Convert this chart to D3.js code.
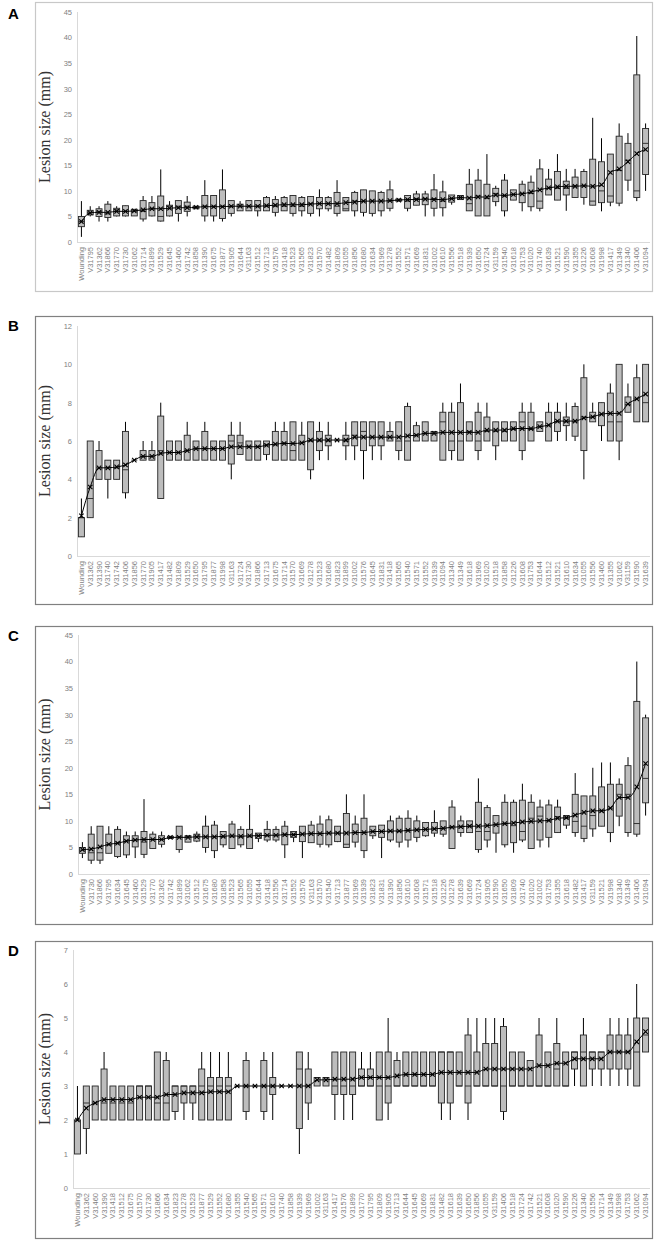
<!DOCTYPE html>
<html>
<head>
<meta charset="utf-8">
<script src="https://cdn.jsdelivr.net/npm/d3@7"></script>
<style>
  body { margin: 0; background: #fff; }
</style>
</head>
<body>
<div id="vis"></div>
<script>
// each stat row: [min, q1, median, q3, max, mean]

var namesA = ["Wounding","V31795","V31362","V31866","V31770","V31730","V31062","V31714","V31899","V31529","V31645","V31460","V31742","V31858","V31390","V31675","V31877","V31905","V31644","V31163","V31512","V31713","V31576","V31418","V31523","V31565","V31823","V31570","V31482","V31809","V31055","V31856","V31680","V31634","V31969","V31278","V31552","V31571","V31669","V31831","V31002","V31610","V31556","V31518","V31939","V31650","V31724","V31159","V31540","V31618","V31753","V31020","V31740","V31639","V31521","V31590","V31355","V31226","V31608","V31998","V31417","V31349","V31340","V31406","V31094"];
var statsA = [
  [1,3,4,5,8,4.0],[5,5.3,5.8,6.2,7,5.7],[4,5,6,6.5,7,5.8],[4,4.8,5.5,7.4,8,5.8],[5,5.1,6.3,6.6,7,6.0],
  [5,5.1,6,7.1,7.1,6.0],[5.1,5.1,6,6.4,6.4,6.1],[4,4.5,6,8.1,9,6.3],[5,5.1,6.5,7.7,9,6.5],[4,4.1,5,9,14.2,6.5],
  [5,5.1,7,7.2,8,6.6],[4,5.6,7,8.1,8.1,6.7],[5,6,7,7.8,9,6.7],[6.5,6.5,6.8,7,7,6.8],[4,5.1,7,9.1,12.1,6.9],
  [4,5.1,7,9.1,9.1,6.9],[4,4.6,7,10.2,14.2,6.9],[5,5.6,7,8.1,8.1,7.0],[6.1,6.1,7,7.4,8,7.0],[6.1,6.1,7,8.1,8.1,7.0],
  [5,6.1,7,8.1,8.1,7.0],[6.1,6.1,7,8.7,9,7.1],[5,5.8,7,8.3,9,7.2],[6.1,6.1,7,8.7,9,7.3],[5,5.6,7,9.1,9.1,7.3],
  [5,6.1,7,8.7,9,7.3],[5,5.6,7.5,8.9,9,7.4],[5,6.5,7.5,8.7,10.3,7.5],[6,6.5,7.5,8.7,9,7.5],[5,5.6,7,9.7,12.1,7.5],
  [6.1,6.1,6.5,8.7,8.7,7.7],[5,6.1,8,9.7,10,7.8],[5,5.8,8,10.2,10.2,8.0],[5,5.6,8,10,10,8.0],[5,6.1,8,9.7,10,8.0],
  [6,6.6,8,10.2,12,8.1],[8,8,8.2,8.4,8.4,8.2],[6,6.6,8,9.1,9.1,8.3],[7.2,7.2,8.5,9.4,10,8.3],[5,7.3,8.5,9.4,10,8.4],
  [5,6.6,8.5,10.2,13.3,8.3],[5,6.7,8,9.8,12,8.3],[7.3,7.8,8.5,9.2,9.2,8.5],[8.3,8.3,8.7,9.1,9.1,8.7],[6.1,6.1,7.5,11.3,14.3,8.6],
  [5.1,5.1,9,12.1,14.3,8.8],[5.1,5.1,8.5,11.3,17.2,8.8],[7,7.9,9.5,10.5,11,9.2],[5,6.1,9,12.1,13.3,9.1],[8.2,8.2,9.3,10.2,10.2,9.3],
  [6,7.7,9.5,11.3,12,9.4],[6,6.9,9.5,11.7,13,9.8],[6,6.6,8,14.3,16.2,10.2],[9.2,9.2,10.5,12.3,14.3,10.6],[8.2,8.2,10.5,13.8,17.2,10.8],
  [6.1,9.2,10.5,11.9,14.3,10.9],[8.7,8.7,11,12.7,14.3,10.9],[7.3,8.7,11,13.8,14.3,11.0],[7.2,7.2,8,16.2,24.3,10.9],[6,7.7,10,15.7,20.3,11.2],
  [7,7.8,9,17.2,17.2,13.6],[7,7.6,14,20.7,23.2,14.3],[10,12.1,16,19.3,21.3,15.7],[8,8.7,10,32.7,40.3,17.3],[10,13.2,19.3,22.2,23.2,18.1]
];

var namesB = ["Wounding","V31362","V31390","V31740","V31742","V31406","V31856","V31770","V31905","V31417","V31482","V31809","V31529","V31650","V31795","V31877","V31998","V31163","V31724","V31730","V31866","V31713","V31675","V31714","V31570","V31669","V31278","V31523","V31680","V31823","V31899","V31002","V31576","V31645","V31831","V31418","V31565","V31540","V31571","V31552","V31939","V31094","V31340","V31349","V31618","V31969","V31020","V31518","V31858","V31226","V31608","V31753","V31644","V31512","V31521","V31610","V31634","V31055","V31556","V31460","V31355","V31062","V31159","V31590","V31639"];
var statsB = [
  [1,1,2,2,3,2.1],[2,2,3,6,6,3.6],[4,4,4.6,5.5,6,4.6],[3,4,4.6,5,5,4.6],[4,4,4.6,5,5,4.65],
  [3,3.3,4.5,6.5,7,4.75],[5,5,5,5,5,5.0],[5,5,5.2,5.5,6,5.2],[5,5,5.2,5.5,6,5.2],[3,3,5.5,7.3,8,5.35],
  [5,5,5.4,6,6,5.4],[5,5,5.4,6,6,5.4],[5,5,5.5,6.3,7,5.5],[5,5,5.6,6,6,5.6],[5,5,5.6,6.5,7,5.6],
  [5,5,5.6,6,6,5.6],[5,5,5.6,6,6,5.6],[4,4.8,6,6.3,7,5.7],[5.3,5.3,5.9,6.3,7,5.7],[5,5,5.7,6,6,5.7],
  [5,5,5.7,6,6,5.7],[5,5.3,5.8,6,6,5.78],[5,5,5.8,6.5,7,5.84],[5,5,5.9,6.5,7,5.87],[5,5,5.5,7,7,5.87],
  [5,5,5.9,6.3,7,5.9],[4,4.5,6,7,7,6.05],[5,5.5,6,6.5,7,6.05],[5,5.75,6,6.3,7,6.05],[6.05,6.05,6.05,6.05,6.05,6.05],
  [5,5.75,6,6.3,7,6.05],[5,5.75,6.3,7,7,6.2],[4,5.5,6.5,7,7,6.2],[5,5.75,6.2,7,7,6.2],[5,5.75,6.2,7,7,6.2],
  [6,6,6.2,6.5,7,6.2],[5,5.5,6,7,7,6.2],[5,5,6,7.8,8,6.27],[6,6,6.3,6.8,7,6.3],[6,6,6.4,7,7,6.4],
  [6,6,6.4,6.5,6.5,6.4],[5,5,7,7.5,8,6.45],[5,5.5,6,7.5,8,6.45],[5,5,6,8,9,6.45],[6,6,6.5,7,7,6.45],
  [5,5.5,6,7.5,8,6.45],[6,6,6.5,7.25,8,6.57],[5,5.75,6.5,7,7,6.57],[6,6,6.5,7,7,6.57],[6,6,6.6,7,7,6.65],
  [5,5.5,7,7.5,8,6.65],[6,6,6.6,7.5,8,6.65],[6.5,6.5,6.75,7,7,6.75],[6,6,6.8,7.5,8,6.83],[6,6.5,7,7.5,8,7.04],
  [6,6.8,7,7.25,8,7.04],[6,6.25,7,7.8,8,7.04],[4,5.5,7.25,9.3,10,7.2],[7,7,7.25,7.5,8,7.26],[6,6.8,7.4,8,8,7.4],
  [6,6,7,8.5,9,7.44],[5,6,7,10,10,7.44],[7.5,7.5,7.9,8.3,9,7.93],[7,7,8.2,9.3,10,8.2],[7,7,8,10,10,8.45]
];

var namesC = ["Wounding","V31730","V31866","V31795","V31634","V31645","V31460","V31529","V31770","V31362","V31742","V31899","V31062","V31512","V31675","V31680","V31858","V31523","V31565","V31055","V31644","V31418","V31556","V31714","V31552","V31576","V31163","V31570","V31540","V31713","V31877","V31969","V31939","V31823","V31831","V31390","V31856","V31610","V31608","V31571","V31518","V31226","V31278","V31639","V31669","V31724","V31905","V31590","V31650","V31809","V31740","V31020","V31002","V31753","V31355","V31618","V31482","V31417","V31159","V31521","V31998","V31340","V31349","V31406","V31094"];
var statsC = [
  [3,3.9,4.5,5,6,4.6],[1.9,2.6,4,7.5,9,4.7],[1.9,2.6,4,9,9,5.1],[3.9,3.9,5.5,7.5,9,5.6],[3,3.3,5.8,8.4,9,5.8],
  [3,3.6,6.2,7.2,8,6.2],[3,5.1,6.4,7.2,8,6.4],[3,3.7,6,8,14.1,6.5],[4.8,4.8,6.5,7.5,8,6.5],[5,5.6,6.5,7.2,8,6.5],
  [6.7,6.7,6.9,7.1,7.1,6.9],[4,4.6,7,9,9,6.9],[6,6,7,7.2,7.2,6.9],[6,6.2,7,7.5,8,7.0],[4,5,7,9,11,7.0],
  [3,4.4,7,9.2,10,7.0],[5,5.5,7,8,8,7.1],[4.8,4.8,7,9.4,10,7.2],[5,5.5,7,8.4,9,7.1],[4.8,4.8,7,8.4,13,7.2],
  [6,6.7,7.2,7.7,7.7,7.2],[6,6.4,7.2,8.4,10,7.3],[6,6.4,7.3,8.4,9,7.3],[3,5.5,7.4,9,10,7.4],[6,6.9,7.4,8,8,7.4],
  [3,6.1,7.5,9,9,7.5],[5.9,5.9,7.6,9.2,10,7.6],[5,5.6,7.6,9.4,11,7.6],[5,5.5,7.7,10.2,11,7.7],[6,6.1,7.7,9,9,7.7],
  [5,5,5.6,11.4,15,7.7],[5,6,7.8,9.4,11,7.8],[3,4.4,7.8,10.5,15,7.8],[6.6,7.2,8,9,9,8.0],[3,6.9,8,9.2,9.2,8.0],
  [6,6.4,8,10,11,8.1],[5,6,8,10.5,11,8.1],[5,6.4,8.2,10.5,12,8.2],[6,6.9,8.3,10,11,8.3],[7,7.2,8.4,9.7,9.7,8.4],
  [7,7.7,8.5,9.7,12,8.5],[7,7.5,8.6,10,10,8.6],[4.8,4.8,8.9,12.6,13.9,8.8],[7,7.8,8.9,10,11,8.9],[7.8,7.8,9,10,10,9.0],
  [4,4.6,8,13.5,18,9.0],[5,6.4,8,12.5,13,9.1],[4,7.7,9.3,11,11,9.3],[5,5.5,9.5,13.5,15,9.5],[4,5.9,9.1,13.5,14,9.6],
  [6,6.4,8,13.9,17,9.8],[4.8,4.8,10.5,13.5,15,9.9],[5,6.4,10.9,12.6,14,10.0],[5,6.9,10,13,14,10.1],[7.8,7.8,10.8,12.6,14,10.5],
  [8.5,9.2,10.5,11,11,10.6],[7,7.8,9.9,15,19,11.1],[6,6.7,9,14.7,14.7,11.6],[7,8.5,11,14.7,20,11.9],[9,9,11.9,16.4,21,11.9],
  [6,7.8,12.4,16.9,21,12.4],[9,10.9,15,16.9,18,14.4],[7,7.8,15,20.4,22,14.4],[7,7.5,9.5,32.5,40,16.4],[11,13.4,18,29.4,30,20.8]
];

var namesD = ["Wounding","V31362","V31460","V31390","V31418","V31512","V31675","V31570","V31730","V31866","V31634","V31823","V31278","V31523","V31877","V31529","V31552","V31680","V31355","V31540","V31565","V31571","V31610","V31740","V31858","V31939","V31969","V31002","V31163","V31417","V31576","V31899","V31770","V31795","V31809","V31905","V31713","V31644","V31645","V31669","V31831","V31482","V31618","V31639","V31650","V31856","V31055","V31159","V31406","V31518","V31724","V31742","V31521","V31608","V31020","V31590","V31226","V31340","V31556","V31714","V31349","V31998","V31753","V31062","V31094"];
var statsD = [
  [1,1,2,2,3,2.0],[1,1.75,2.5,3,3,2.35],[2,2,2.5,3,3,2.5],[2,2,2.5,3.5,4,2.6],[2,2,2.5,3,3,2.6],
  [2,2,2.5,3,3,2.6],[2,2,2.5,3,3,2.6],[2,2,3,3,3,2.67],[2,2,3,3,3,2.67],[2,2,2.5,4,4,2.67],
  [2,2,2.5,3.75,4,2.75],[2,2.25,3,3,3,2.75],[2,2.5,3,3,3,2.8],[2,2.5,3,3,3,2.8],[2,2,3,3.5,4,2.8],
  [2,2,3,3.25,4,2.83],[2,2,3,3.25,4,2.83],[2,2,3,3.25,4,2.83],[3,3,3,3,3,3.0],[2,2.25,3,3.75,4,3.0],
  [3,3,3,3,3,3.0],[2,2.25,3,3.75,4,3.0],[2,2.75,3,3.25,4,3.0],[3,3,3,3,3,3.0],[3,3,3,3,3,3.0],
  [1,1.75,3.5,4,4,3.0],[2,2.5,3,3.5,4,3.0],[3,3,3.25,3.25,3.25,3.18],[3,3,3.25,3.25,3.25,3.18],[2,2.75,3,4,4,3.2],
  [2,2.75,3,4,4,3.2],[2,2.75,3,4,4,3.2],[3,3,3,3.5,4,3.25],[3,3,3,3.5,4,3.25],[2,2,3,4,4,3.25],
  [2,2.5,3,4,5,3.25],[3,3,3,3.75,4,3.3],[3,3,3,4,4,3.34],[3,3,3,4,4,3.34],[3,3,3,4,4,3.34],
  [3,3,3,4,4,3.34],[2,2.5,4,4,4,3.4],[2,2.5,4,4,4,3.4],[3,3,3,4,4,3.4],[2,2.5,3,4.5,5,3.4],
  [3,3,3,4,5,3.4],[3,3,3,4.25,5,3.5],[3,3,3,4.25,5,3.5],[2,2.25,3,4.75,5,3.5],[3,3,3,4,4,3.5],
  [3,3,3,4,4,3.5],[3,3,3,3.75,3.75,3.5],[3,3,3,4.5,5,3.6],[3,3,3,4,4,3.6],[3,3,3.5,4.25,5,3.67],
  [3,3,3,4,4,3.67],[3,3.5,4,4,4,3.8],[3,3,4,4.5,5,3.8],[3,3.5,4,4,4,3.8],[3,3.5,4,4,4,3.8],
  [3,3.5,4,4.5,5,4.0],[3,3.5,4,4.5,5,4.0],[3,3.5,4,4.5,5,4.0],[3,3,4,5,6,4.3],[4,4,4.5,5,5,4.6]
];

var width = 657;
var height = 1240;

var svg = d3.select('#vis').append('svg')
    .attr('width', width)
    .attr('height', height);

var panels = [
  {letter: 'A', frameTop: 2, frameBottom: 291, plotTop: 12, plotBottom: 242, axisX: 77, yMax: 45, yStep: 5, frame: '#c8c8c8', names: namesA, stats: statsA},
  {letter: 'B', frameTop: 316, frameBottom: 604, plotTop: 326, plotBottom: 556, axisX: 77, yMax: 12, yStep: 2, frame: '#808080', names: namesB, stats: statsB},
  {letter: 'C', frameTop: 626, frameBottom: 924, plotTop: 635, plotBottom: 874, axisX: 78, yMax: 45, yStep: 5, frame: '#808080', names: namesC, stats: statsC},
  {letter: 'D', frameTop: 941, frameBottom: 1238, plotTop: 950, plotBottom: 1188, axisX: 73, yMax: 7, yStep: 1, frame: '#808080', names: namesD, stats: statsD}
];

panels.forEach(function(p){ drawPanel(svg.append('g'), p); });

function drawPanel(g, p) {
  var right = 650;

  g.append('rect')
    .attr('x', 35.5).attr('y', p.frameTop + 0.5)
    .attr('width', 617).attr('height', p.frameBottom - p.frameTop)
    .attr('fill', 'none')
    .attr('stroke', p.frame)
    .attr('stroke-width', 1.2);

  g.append('text')
    .attr('x', 8).attr('y', p.frameTop + (p.letter == 'A' ? 17 : 15))
    .attr('font-family', 'Liberation Sans, Arial, sans-serif')
    .attr('font-weight', 'bold')
    .attr('font-size', 15)
    .text(p.letter);

  var y = d3.scaleLinear().domain([0, p.yMax]).range([p.plotBottom, p.plotTop]);
  var x = d3.scaleBand().domain(p.names).range([p.axisX, right]).padding(0);
  var bw = x.bandwidth() * 0.68;

  // axis lines
  g.append('line')
    .attr('x1', p.axisX + 0.5).attr('x2', p.axisX + 0.5)
    .attr('y1', p.plotTop).attr('y2', p.plotBottom)
    .attr('stroke', '#d9d9d9');
  g.append('line')
    .attr('x1', p.axisX).attr('x2', right)
    .attr('y1', p.plotBottom + 0.5).attr('y2', p.plotBottom + 0.5)
    .attr('stroke', '#d9d9d9');

  var yAxis = g.append('g')
    .attr('transform', 'translate(' + (p.axisX - 5) + ',0)')
    .call(d3.axisLeft(y)
      .tickValues(d3.range(0, p.yMax + 0.001, p.yStep))
      .tickFormat(d3.format('d'))
      .tickSize(0).tickPadding(0));
  yAxis.select('.domain').remove();
  yAxis.selectAll('text')
    .attr('font-family', 'Liberation Sans, Arial, sans-serif')
    .attr('font-size', 7.5)
    .attr('fill', '#7f7f7f');

  var xAxis = g.append('g')
    .attr('transform', 'translate(0,' + (p.plotBottom + 3) + ')')
    .call(d3.axisBottom(x).tickSize(0));
  xAxis.select('.domain').remove();
  xAxis.selectAll('text')
    .attr('font-family', 'Liberation Sans, Arial, sans-serif')
    .attr('font-size', 7.5)
    .attr('fill', '#7f7f7f')
    .attr('transform', 'rotate(-90)')
    .attr('text-anchor', 'end')
    .attr('x', -2).attr('y', 0).attr('dy', '0.33em');

  g.append('text')
    .attr('transform', 'translate(50,' + ((p.plotTop + p.plotBottom) / 2) + ') rotate(-90)')
    .attr('text-anchor', 'middle')
    .attr('font-family', 'Liberation Serif, Times New Roman, serif')
    .attr('font-size', 16)
    .attr('fill', '#333')
    .text('Lesion size (mm)');

  var rows = p.stats.map(function(s, i){ return {name: p.names[i], s: s}; });
  var cx = function(d){ return x(d.name) + x.bandwidth() / 2; };

  var items = g.selectAll('g.item').data(rows).enter().append('g').attr('class', 'item');

  items.append('line')
    .attr('x1', cx).attr('x2', cx)
    .attr('y1', function(d){ return y(d.s[4]); })
    .attr('y2', function(d){ return y(d.s[0]); })
    .attr('stroke', '#000')
    .attr('stroke-width', 1);

  items.append('rect')
    .attr('x', function(d){ return cx(d) - bw / 2; })
    .attr('y', function(d){ return y(d.s[3]); })
    .attr('width', bw)
    .attr('height', function(d){ return Math.max(0, y(d.s[1]) - y(d.s[3])); })
    .attr('fill', '#bdbdbd')
    .attr('stroke', '#262626')
    .attr('stroke-width', 0.9);

  items.append('line')
    .attr('x1', function(d){ return cx(d) - bw / 2; })
    .attr('x2', function(d){ return cx(d) + bw / 2; })
    .attr('y1', function(d){ return y(d.s[2]); })
    .attr('y2', function(d){ return y(d.s[2]); })
    .attr('stroke', '#262626')
    .attr('stroke-width', 0.9);

  var meanLine = d3.line()
    .x(cx)
    .y(function(d){ return y(d.s[5]); })
    .curve(d3.curveMonotoneX);

  g.append('path')
    .datum(rows)
    .attr('d', meanLine)
    .attr('fill', 'none')
    .attr('stroke', '#000')
    .attr('stroke-width', 1);

  var m = 2.2;
  items.append('path')
    .attr('d', function(d){
      var px = cx(d), py = y(d.s[5]);
      return 'M' + (px - m) + ',' + (py - m) + 'L' + (px + m) + ',' + (py + m) +
             'M' + (px - m) + ',' + (py + m) + 'L' + (px + m) + ',' + (py - m);
    })
    .attr('stroke', '#000')
    .attr('stroke-width', 1.1)
    .attr('fill', 'none');
}
</script>
</body>
</html>
